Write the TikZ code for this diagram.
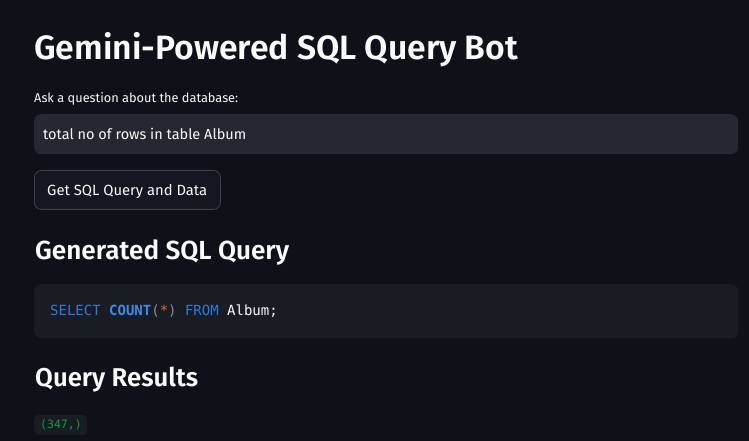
\documentclass[tikz,border=0pt]{standalone}
\usepackage{fontspec}
\setmainfont{Fira Sans}
\newfontfamily\semib{Fira Sans SemiBold}
\newfontfamily\codefont{DejaVu Sans Mono}
\usepackage{graphicx}
\definecolor{bgc}{HTML}{0E1117}
\definecolor{inputc}{HTML}{262730}
\definecolor{codebg}{HTML}{1A1C24}
\definecolor{btnfill}{HTML}{13171F}
\definecolor{btnborder}{HTML}{3E4149}
\definecolor{txt}{HTML}{FAFAFA}
\definecolor{kw}{HTML}{2B7BDB}
\definecolor{kwb}{HTML}{3A8CEB}
\definecolor{paren}{HTML}{8A8D97}
\definecolor{star}{HTML}{D9731F}
\definecolor{resgreen}{HTML}{0E9E3C}
\newcommand\fitw[2]{\resizebox{#1}{!}{#2}}
\begin{document}
\begin{tikzpicture}[x=1bp,y=-1bp,
  txtnode/.style={anchor=base west,inner sep=0pt,text=txt},
  panel/.style={anchor=north west,inner sep=0pt,rounded corners=7bp,draw=none}]
\useasboundingbox[fill=bgc] (0,0) rectangle (749,441);
% title
\node[txtnode] (title) at (34,60) {\fitw{484bp}{\semib Gemini-Powered SQL Query Bot}};
\node[txtnode] (asklabel) at (34,103) {\fitw{204bp}{Ask a question about the database:}};
% input box
\node[panel,fill=inputc,minimum width=704bp,minimum height=40bp] (inputbox) at (34,114) {};
\node[txtnode] (inputtext) at (43,140) {\fitw{203bp}{total no of rows in table Album}};
% button
\node[panel,fill=btnfill,draw=btnborder,line width=0.8bp,minimum width=186bp,minimum height=39bp] (button) at (34,170) {};
\node[txtnode] (buttontext) at (47,196) {\fitw{160bp}{Get SQL Query and Data}};
% generated sql heading
\node[txtnode] (genhead) at (35,260) {\fitw{254bp}{\semib Generated SQL Query}};
% code box
\node[panel,fill=codebg,minimum width=704bp,minimum height=54bp] (codebox) at (34,284) {};
\node[txtnode] (codetext) at (50,316) {\codefont\fontsize{14bp}{16bp}\selectfont
  \textcolor{kw}{SELECT} \textcolor{kwb}{\bfseries COUNT}\textcolor{paren}{(}\textcolor{star}{*}\textcolor{paren}{)} \textcolor{kw}{FROM} \textcolor{txt}{Album;}};
% query results heading
\node[txtnode] (reshead) at (35,387) {\fitw{163bp}{\semib Query Results}};
% result box
\node[panel,rounded corners=4bp,fill=codebg,minimum width=53bp,minimum height=20bp] (resbox) at (34,415) {};
\node[txtnode,text=resgreen] (restext) at (40,428.5) {\codefont\fontsize{11.5bp}{13bp}\selectfont (347,)};
\end{tikzpicture}
\end{document}
